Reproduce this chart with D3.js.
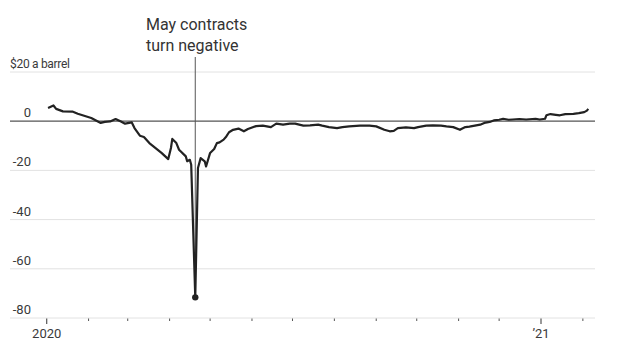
<!DOCTYPE html>
<html>
<head>
<meta charset="utf-8">
<script src="https://cdn.jsdelivr.net/npm/d3@7"></script>
<style>
  body { margin: 0; background: #fff; }
  svg { font-family: Roboto, "Noto Sans", sans-serif; }
  .grid line { stroke: #e2e2e2; stroke-width: 1px; }
  .tick-label { fill: #3a3a3a; font-size: 13px; }
  .unit-label { font-size: 12px; letter-spacing: -0.3px; }
  .annotation { fill: #333; font-size: 16px; }
</style>
</head>
<body>
<div id="chart"></div>
<script>
// values, $ a barrel
const dates = [
  "2020-01-02","2020-01-06","2020-01-08","2020-01-13","2020-01-20","2020-01-24",
  "2020-02-03","2020-02-10","2020-02-13","2020-02-17","2020-02-21","2020-02-25","2020-02-28",
  "2020-03-04","2020-03-06","2020-03-10","2020-03-13","2020-03-17","2020-03-20","2020-03-26","2020-03-31",
  "2020-04-02","2020-04-03","2020-04-06","2020-04-08","2020-04-13","2020-04-14","2020-04-16","2020-04-17",
  "2020-04-20","2020-04-22","2020-04-24","2020-04-27","2020-04-28",
  "2020-05-01","2020-05-04","2020-05-06","2020-05-08","2020-05-11","2020-05-13","2020-05-15","2020-05-18",
  "2020-05-22","2020-05-26","2020-05-29",
  "2020-06-04","2020-06-09","2020-06-15","2020-06-19","2020-06-24","2020-06-29",
  "2020-07-03","2020-07-09","2020-07-14","2020-07-20","2020-07-23","2020-07-28",
  "2020-08-03","2020-08-07","2020-08-12","2020-08-20","2020-08-27",
  "2020-09-01","2020-09-07","2020-09-11","2020-09-14","2020-09-17","2020-09-23","2020-09-29",
  "2020-10-02","2020-10-08","2020-10-13","2020-10-19","2020-10-23","2020-10-28",
  "2020-11-02","2020-11-03","2020-11-06","2020-11-09","2020-11-13","2020-11-17","2020-11-20","2020-11-24","2020-11-27",
  "2020-12-01","2020-12-04","2020-12-08","2020-12-11","2020-12-16","2020-12-21","2020-12-28","2020-12-31",
  "2021-01-04","2021-01-05","2021-01-08","2021-01-12","2021-01-15","2021-01-19","2021-01-25","2021-01-29",
  "2021-02-02","2021-02-04","2021-02-05"
];
const values = [
  5.4, 6.4, 5.0, 4.0, 3.9, 3.0,
  1.3, -0.7, -0.3, -0.1, 0.9, -0.1, -1.0,
  -0.5, -2.8, -5.9, -6.4, -8.9, -10.2, -12.9, -15.4,
  -10.9, -7.2, -8.9, -11.6, -14.3, -16.3, -15.7, -17.7,
  -71.6, -19.0, -15.0, -16.3, -18.4,
  -12.9, -11.3, -8.9, -8.6, -7.5, -6.2, -4.5, -3.5,
  -3.0, -4.1, -3.2,
  -2.0, -1.8, -2.4, -1.0, -1.4, -1.0,
  -1.0, -1.8, -1.7, -1.4, -1.8, -2.4,
  -2.8, -2.4, -2.1, -1.8, -1.8,
  -2.1, -3.5, -4.1, -3.9, -2.8, -2.5, -2.8,
  -2.4, -1.8, -1.7, -1.8, -2.1, -2.4,
  -3.5, -3.2, -2.4, -2.2, -1.8, -1.4, -0.7, -0.3, 0.3,
  0.6, 1.0, 0.6, 0.7, 0.9, 0.7, 1.0, 0.7,
  1.0, 2.4, 2.9, 2.6, 2.4, 2.9, 3.0, 3.3,
  3.7, 4.3, 5.0
];
const yTicks = [20, 0, -20, -40, -60, -80];
const yTickLabels = ["$20 a barrel", "0", "-20", "-40", "-60", "-80"];
const xDomain = ["2020-01-01", "2021-01-01"];
const yearLabels = [["2020-01-01", "2020"], ["2021-01-01", "\u201921"]];
const noteDate = "2020-04-20";
const noteLines = ["May contracts", "turn negative"];

const width = 620, height = 351;
const parse = d3.utcParse("%Y-%m-%d");
const data = dates.map((d, i) => ({date: parse(d), value: values[i]}));

const x = d3.scaleUtc().domain(xDomain.map(parse)).range([46.7, 541]);
const y = d3.scaleLinear().domain([-80, 20]).range([318, 72]);
const gridLeft = 10, gridRight = 595;

const svg = d3.select("#chart").append("svg")
  .attr("width", width)
  .attr("height", height);

// horizontal gridlines
svg.append("g").attr("class", "grid")
  .selectAll("line")
  .data(yTicks.filter(d => d !== 0))
  .join("line")
  .attr("x1", gridLeft).attr("x2", gridRight)
  .attr("y1", d => y(d)).attr("y2", d => y(d));

// y labels sit above their gridline
svg.append("g")
  .selectAll("text")
  .data(yTicks)
  .join("text")
  .attr("class", (d, i) => i === 0 ? "tick-label unit-label" : "tick-label")
  .attr("x", (d, i) => i === 0 ? gridLeft : 31)
  .attr("y", d => y(d) - 4)
  .attr("text-anchor", (d, i) => i === 0 ? "start" : "end")
  .text((d, i) => yTickLabels[i]);

// month ticks, longer ones at year starts
const months = d3.utcMonth.range(parse("2020-01-01"), parse("2021-02-02"));
svg.append("g")
  .selectAll("line")
  .data(months)
  .join("line")
  .attr("x1", d => x(d)).attr("x2", d => x(d))
  .attr("y1", y(-80) + 0.5)
  .attr("y2", d => y(-80) + (d.getUTCMonth() === 0 ? 6 : 3))
  .attr("stroke", "#555")
  .attr("stroke-width", d => d.getUTCMonth() === 0 ? 1.2 : 1);

svg.append("g")
  .selectAll("text")
  .data(yearLabels)
  .join("text")
  .attr("class", "tick-label")
  .attr("x", d => x(parse(d[0])))
  .attr("y", 338)
  .attr("text-anchor", "middle")
  .text(d => d[1]);

// zero line
svg.append("line")
  .attr("x1", gridLeft).attr("x2", gridRight)
  .attr("y1", y(0)).attr("y2", y(0))
  .attr("stroke", "#555")
  .attr("stroke-width", 1.2);

// annotation
const note = data.find(d => +d.date === +parse(noteDate));
svg.append("line")
  .attr("x1", x(note.date)).attr("x2", x(note.date))
  .attr("y1", 57).attr("y2", y(note.value))
  .attr("stroke", "#555")
  .attr("stroke-width", 1);

svg.append("text")
  .attr("class", "annotation")
  .selectAll("tspan")
  .data(noteLines)
  .join("tspan")
  .attr("x", 146)
  .attr("y", (d, i) => 30 + i * 21)
  .text(d => d);

const line = d3.line()
  .x(d => x(d.date))
  .y(d => y(d.value))
  .curve(d3.curveLinear);

svg.append("path")
  .datum(data)
  .attr("fill", "none")
  .attr("stroke", "#222")
  .attr("stroke-width", 2.2)
  .attr("stroke-linejoin", "round")
  .attr("d", line);

svg.append("circle")
  .attr("cx", x(note.date))
  .attr("cy", y(note.value))
  .attr("r", 3.2)
  .attr("fill", "#222");
</script>
</body>
</html>
